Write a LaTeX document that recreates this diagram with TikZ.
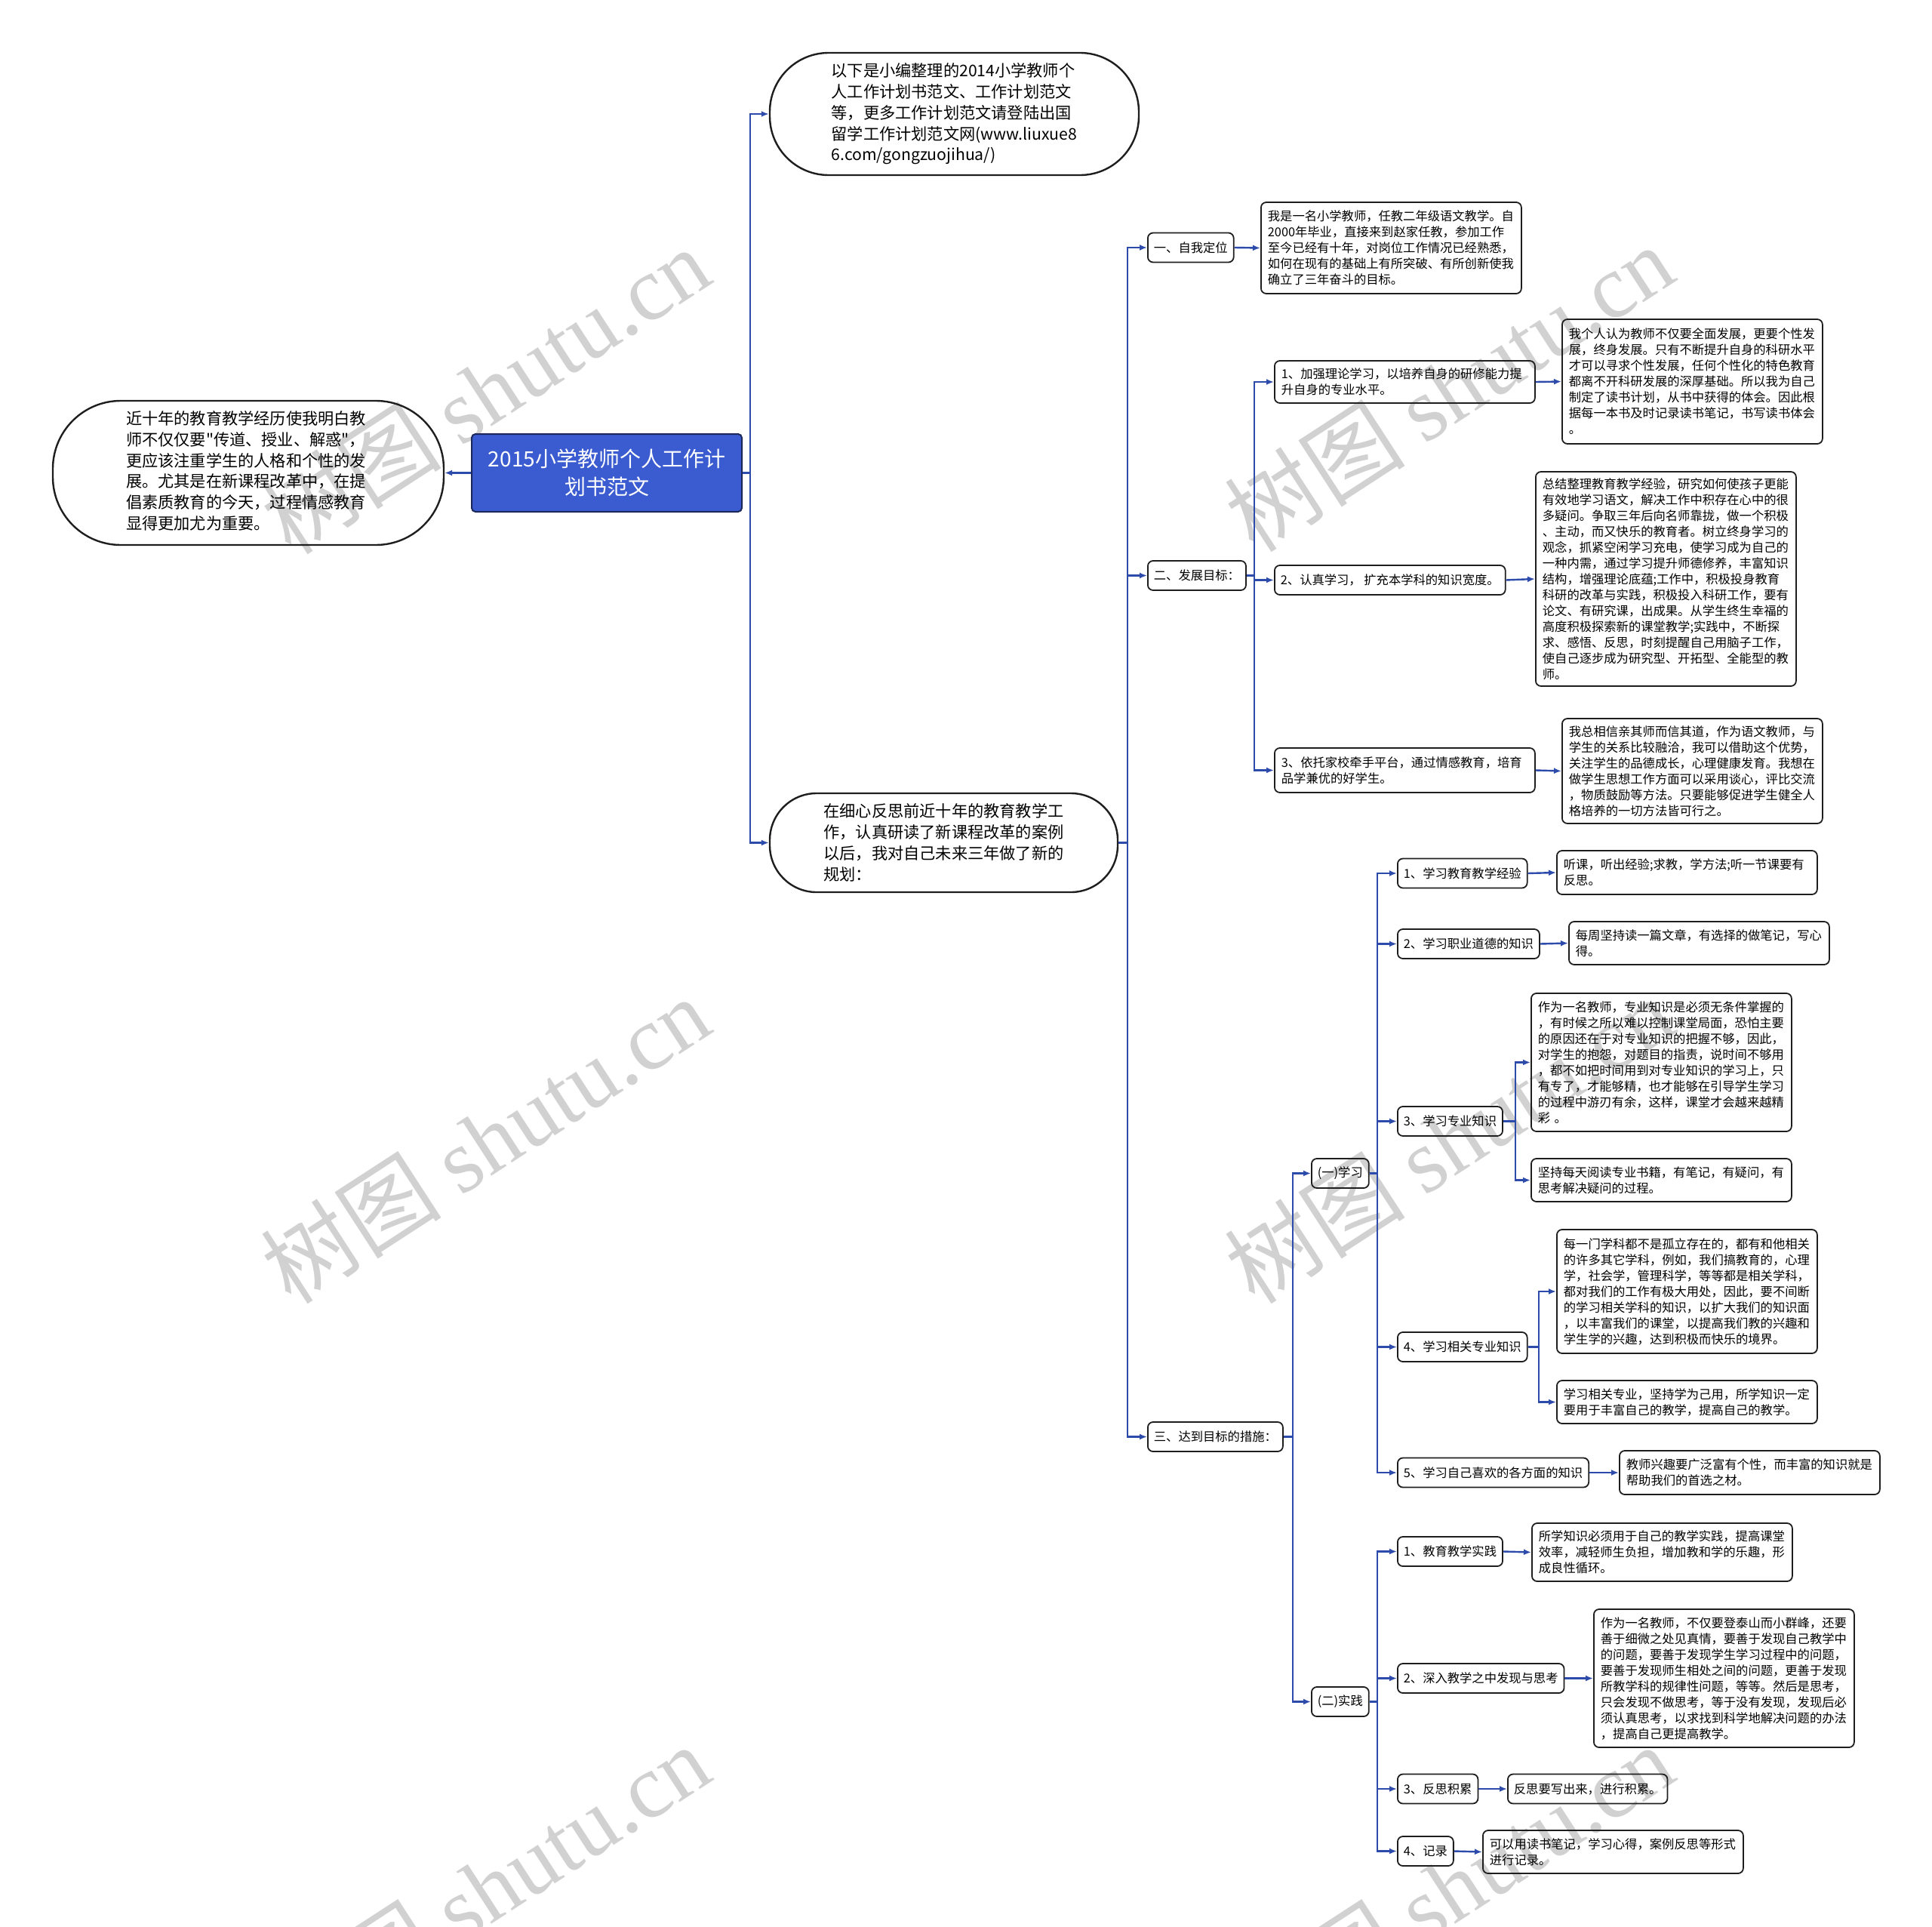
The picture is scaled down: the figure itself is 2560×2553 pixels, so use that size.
\documentclass[tikz,border=0pt]{standalone}
\usepackage{fontspec}
\setmainfont{Noto Sans CJK SC}
\newfontfamily\cjkplain{Noto Sans CJK SC}
\newfontfamily\wmserif{Liberation Serif}
\usetikzlibrary{arrows.meta}
\definecolor{linkblue}{RGB}{45,75,170}
\definecolor{rootblue}{RGB}{59,91,208}
\definecolor{rootbord}{RGB}{28,40,90}
\definecolor{bord}{RGB}{30,30,30}
\begin{document}
\begin{tikzpicture}[x=1pt,y=-1pt,
 conn/.style={draw=linkblue,line width=2.4pt},
 arr/.style={conn,-{Latex[length=10pt,width=8pt]}},
 lab/.style={draw=bord,line width=1.8pt,rounded corners=7pt,inner xsep=8pt,inner ysep=6pt,anchor=west,minimum height=39pt,font=\cjkplain\fontsize{16.3}{21}\selectfont},
 txt/.style={lab,text width=327pt,inner xsep=9pt,align=left},
 pill/.style={draw=bord,line width=2.4pt,align=left,font=\cjkplain\fontsize{21.2}{27.8}\selectfont},
 wm/.style={text=black!18,font=\cjkplain\fontsize{120}{120}\selectfont,rotate=33,inner sep=0pt}
]
\useasboundingbox (0,0) rectangle (2560,2553);
% watermarks
\foreach \wx/\wy [count=\i] in {643/517,1920/514,643/1510,1920/1510,643/2501,1920/2501}{
  \node[wm] (wm\i) at (\wx,\wy) {树图 {\wmserif shutu.cn}};
}
% trunk coordinates
\coordinate (t1) at (994,0);
\coordinate (t2) at (1494,0);
\coordinate (t3) at (1662,0);
\coordinate (t4) at (1713,0);
\coordinate (t5) at (1825,0);
\coordinate (t6) at (2008,0);
\coordinate (t7) at (2039,0);

% root and first level
\node[draw=rootbord,fill=rootblue,line width=2pt,rounded corners=5pt,minimum width=358pt,minimum height=103pt,text=white,align=center,font=\cjkplain\fontsize{28}{37}\selectfont] (root) at (804,626.5) {2015小学教师个人工作计\\划书范文};
\node[pill,minimum width=518pt,minimum height=191pt,rounded corners=90pt] (left) at (329,626.5) {\hspace*{-6pt}\begin{tabular}{@{}l@{}}近十年的教育教学经历使我明白教\\师不仅仅要"传道、授业、解惑"，\\更应该注重学生的人格和个性的发\\展。尤其是在新课程改革中，在提\\倡素质教育的今天，过程情感教育\\显得更加尤为重要。\end{tabular}};
\node[pill,minimum width=489pt,minimum height=162pt,rounded corners=78pt] (top) at (1264.5,151) {以下是小编整理的2014小学教师个\\人工作计划书范文、工作计划范文\\等，更多工作计划范文请登陆出国\\留学工作计划范文网(www.liuxue8\\6.com/gongzuojihua/)};
\node[pill,minimum width=461pt,minimum height=131pt,rounded corners=62pt] (second) at (1250.5,1116.5) {在细心反思前近十年的教育教学工\\作，认真研读了新课程改革的案例\\以后，我对自己未来三年做了新的\\规划：};

% level 2
\node[lab] (z1) at (1520,328) {一、自我定位};
\node[txt,minimum height=121pt] (z1t) at (1670,328.5) {我是一名小学教师，任教二年级语文教学。自\\2000年毕业，直接来到赵家任教，参加工作\\至今已经有十年，对岗位工作情况已经熟悉，\\如何在现有的基础上有所突破、有所创新使我\\确立了三年奋斗的目标。};
\node[lab] (z2) at (1520,762.5) {二、发展目标：};
\node[txt,minimum height=56pt] (z21) at (1688,506) {1、加强理论学习，以培养自身的研修能力提\\升自身的专业水平。};
\node[txt,minimum height=165pt] (z21t) at (2069,505.5) {我个人认为教师不仅要全面发展，更要个性发\\展，终身发展。只有不断提升自身的科研水平\\才可以寻求个性发展，任何个性化的特色教育\\都离不开科研发展的深厚基础。所以我为自己\\制定了读书计划，从书中获得的体会。因此根\\据每一本书及时记录读书笔记，书写读书体会\\。};
\node[lab] (z22) at (1688,768.5) {2、认真学习， 扩充本学科的知识宽度。};
\node[txt,minimum height=284pt] (z22t) at (2034,767) {总结整理教育教学经验，研究如何使孩子更能\\有效地学习语文，解决工作中积存在心中的很\\多疑问。争取三年后向名师靠拢，做一个积极\\、主动，而又快乐的教育者。树立终身学习的\\观念，抓紧空闲学习充电，使学习成为自己的\\一种内需，通过学习提升师德修养，丰富知识\\结构，增强理论底蕴;工作中，积极投身教育\\科研的改革与实践，积极投入科研工作，要有\\论文、有研究课，出成果。从学生终生幸福的\\高度积极探索新的课堂教学;实践中，不断探\\求、感悟、反思，时刻提醒自己用脑子工作，\\使自己逐步成为研究型、开拓型、全能型的教\\师。};
\node[txt,minimum height=59pt] (z23) at (1688,1020.5) {3、依托家校牵手平台，通过情感教育，培育\\品学兼优的好学生。};
\node[txt,minimum height=139pt] (z23t) at (2069,1021.5) {我总相信亲其师而信其道，作为语文教师，与\\学生的关系比较融洽，我可以借助这个优势，\\关注学生的品德成长，心理健康发育。我想在\\做学生思想工作方面可以采用谈心，评比交流\\，物质鼓励等方法。只要能够促进学生健全人\\格培养的一切方法皆可行之。};
\node[lab] (z3) at (1520,1903.5) {三、达到目标的措施：};

% (一)学习
\node[lab] (s1) at (1737,1554.5) {(一)学习};
\node[lab] (s11) at (1851,1157) {1、学习教育教学经验};
\node[txt,minimum height=58pt] (s11t) at (2062,1156) {听课，听出经验;求教，学方法;听一节课要有\\反思。};
\node[lab] (s12) at (1851,1250.5) {2、学习职业道德的知识};
\node[txt,minimum height=57pt] (s12t) at (2078,1249.5) {每周坚持读一篇文章，有选择的做笔记，写心\\得。};
\node[lab] (s13) at (1851,1485.5) {3、学习专业知识};
\node[txt,minimum height=183pt] (s13a) at (2028,1407.5) {作为一名教师，专业知识是必须无条件掌握的\\，有时候之所以难以控制课堂局面，恐怕主要\\的原因还在于对专业知识的把握不够，因此，\\对学生的抱怨，对题目的指责，说时间不够用\\，都不如把时间用到对专业知识的学习上，只\\有专了，才能够精，也才能够在引导学生学习\\的过程中游刃有余，这样，课堂才会越来越精\\彩 。};
\node[txt,minimum height=57pt] (s13b) at (2028,1563.5) {坚持每天阅读专业书籍，有笔记，有疑问，有\\思考解决疑问的过程。};
\node[lab] (s14) at (1851,1784.5) {4、学习相关专业知识};
\node[txt,minimum height=164pt] (s14a) at (2062,1711) {每一门学科都不是孤立存在的，都有和他相关\\的许多其它学科，例如，我们搞教育的，心理\\学，社会学，管理科学，等等都是相关学科，\\都对我们的工作有极大用处，因此，要不间断\\的学习相关学科的知识，以扩大我们的知识面\\，以丰富我们的课堂，以提高我们教的兴趣和\\学生学的兴趣，达到积极而快乐的境界。};
\node[txt,minimum height=57pt] (s14b) at (2062,1857.5) {学习相关专业，坚持学为己用，所学知识一定\\要用于丰富自己的教学，提高自己的教学。};
\node[lab] (s15) at (1851,1951) {5、学习自己喜欢的各方面的知识};
\node[txt,minimum height=58pt] (s15t) at (2145,1951) {教师兴趣要广泛富有个性，而丰富的知识就是\\帮助我们的首选之材。};

% (二)实践
\node[lab] (s2) at (1737,2254.5) {(二)实践};
\node[lab] (p1) at (1851,2055.5) {1、教育教学实践};
\node[txt,minimum height=77pt] (p1t) at (2029,2056.5) {所学知识必须用于自己的教学实践，提高课堂\\效率，减轻师生负担，增加教和学的乐趣，形\\成良性循环。};
\node[lab] (p2) at (1851,2223.5) {2、深入教学之中发现与思考};
\node[txt,minimum height=183pt] (p2t) at (2111,2223.5) {作为一名教师，不仅要登泰山而小群峰，还要\\善于细微之处见真情，要善于发现自己教学中\\的问题，要善于发现学生学习过程中的问题，\\要善于发现师生相处之间的问题，更善于发现\\所教学科的规律性问题，等等。然后是思考，\\只会发现不做思考，等于没有发现，发现后必\\须认真思考，以求找到科学地解决问题的办法\\，提高自己更提高教学。};
\node[lab] (p3) at (1851,2370) {3、反思积累};
\node[lab] (p3t) at (1997,2370) {反思要写出来，进行积累。};
\node[lab] (p4) at (1851,2452.5) {4、记录};
\node[txt,minimum height=57pt] (p4t) at (1964,2453.5) {可以用读书笔记，学习心得，案例反思等形式\\进行记录。};

% connectors
\draw[arr] (root.west) -- (left.east);
\foreach \c in {top,second}{\draw[arr] (root.east) -- (root.east -| t1) |- (\c.west);}
\foreach \c in {z1,z2,z3}{\draw[arr] (second.east) -- (second.east -| t2) |- (\c.west);}
\draw[arr] (z1.east) -- (z1t.west);
\foreach \c in {z21,z22,z23}{\draw[arr] (z2.east) -- (z2.east -| t3) |- (\c.west);}
\draw[arr] (z21.east) -- (z21t.west);
\draw[arr] (z22.east) -- (z22t.west);
\draw[arr] (z23.east) -- (z23t.west);
\foreach \c in {s1,s2}{\draw[arr] (z3.east) -- (z3.east -| t4) |- (\c.west);}
\foreach \c in {s11,s12,s13,s14,s15}{\draw[arr] (s1.east) -- (s1.east -| t5) |- (\c.west);}
\draw[arr] (s11.east) -- (s11t.west);
\draw[arr] (s12.east) -- (s12t.west);
\foreach \c in {s13a,s13b}{\draw[arr] (s13.east) -- (s13.east -| t6) |- (\c.west);}
\foreach \c in {s14a,s14b}{\draw[arr] (s14.east) -- (s14.east -| t7) |- (\c.west);}
\draw[arr] (s15.east) -- (s15t.west);
\foreach \c in {p1,p2,p3,p4}{\draw[arr] (s2.east) -- (s2.east -| t5) |- (\c.west);}
\draw[arr] (p1.east) -- (p1t.west);
\draw[arr] (p2.east) -- (p2t.west);
\draw[arr] (p3.east) -- (p3t.west);
\draw[arr] (p4.east) -- (p4t.west);
\end{tikzpicture}
\end{document}
